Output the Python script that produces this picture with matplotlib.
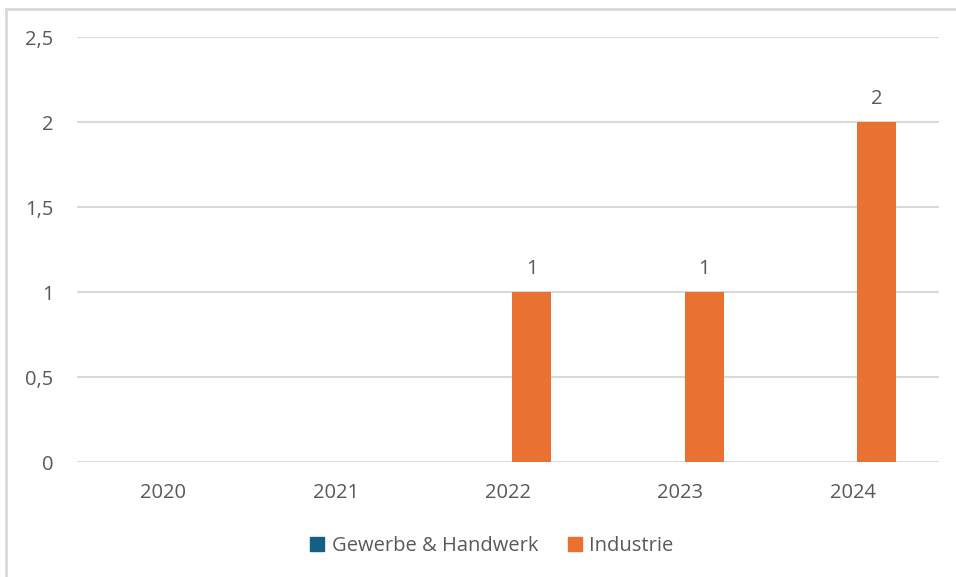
import matplotlib.pyplot as plt
import numpy as np
from matplotlib.lines import Line2D
from matplotlib.patches import Patch

years = ["2020", "2021", "2022", "2023", "2024"]
gewerbe = [0, 0, 0, 0, 0]
industrie = [0, 0, 1, 1, 2]

blue = "#156082"
orange = "#E97132"
text_col = "#595959"
grid_col = "#D9D9D9"

plt.rcParams['font.family'] = ['Open Sans', 'DejaVu Sans']
fs = 14.5

fig = plt.figure(figsize=(9.56, 5.77), dpi=100)
ax = fig.add_axes([77 / 956, 1 - 462 / 577, (939 - 77) / 956, (462 - 37) / 577])

x = np.arange(len(years))
w = 0.226
gap = 0.026
ax.bar(x - gap - w / 2, gewerbe, width=w, color=blue, zorder=3)
bars = ax.bar(x + gap + w / 2, industrie, width=w, color=orange, zorder=3)

for b, v in zip(bars, industrie):
    if v > 0:
        ax.annotate(str(v), (b.get_x() + b.get_width() / 2, v), xytext=(0, 9),
                    textcoords="offset points", ha="center", va="bottom",
                    fontsize=fs, color=text_col)

ax.set_xlim(-0.5, len(years) - 0.5)
ax.set_ylim(0, 2.5)
ax.set_yticks([0, 0.5, 1, 1.5, 2, 2.5])
ax.set_yticklabels(["0", "0,5", "1", "1,5", "2", "2,5"])
ax.set_xticks(x)
ax.set_xticklabels(years)
ax.tick_params(length=0, labelsize=fs, labelcolor=text_col)
ax.tick_params(axis="y", pad=17)
ax.tick_params(axis="x", pad=15)
ax.yaxis.grid(True, color=grid_col, linewidth=1.5, zorder=0)
for s in ax.spines.values():
    s.set_visible(False)

handles = [Patch(color=blue, label="Gewerbe & Handwerk"),
           Patch(color=orange, label="Industrie")]
fig.legend(handles=handles, loc="center", bbox_to_anchor=(492 / 956, 1 - 546 / 577),
           ncol=2, frameon=False, fontsize=fs, labelcolor=text_col,
           handlelength=0.7, handleheight=0.7, handletextpad=0.35, columnspacing=1.5)

# frame edge on the left and top
fig.add_artist(Line2D([5.5 / 956, 5.5 / 956], [0, 1 - 8.5 / 577], transform=fig.transFigure,
                      color="#D9D9D9", linewidth=2))
fig.add_artist(Line2D([5.5 / 956, 1], [1 - 8.5 / 577, 1 - 8.5 / 577], transform=fig.transFigure,
                      color="#D9D9D9", linewidth=2))

fig.savefig("out.png", dpi=100)
